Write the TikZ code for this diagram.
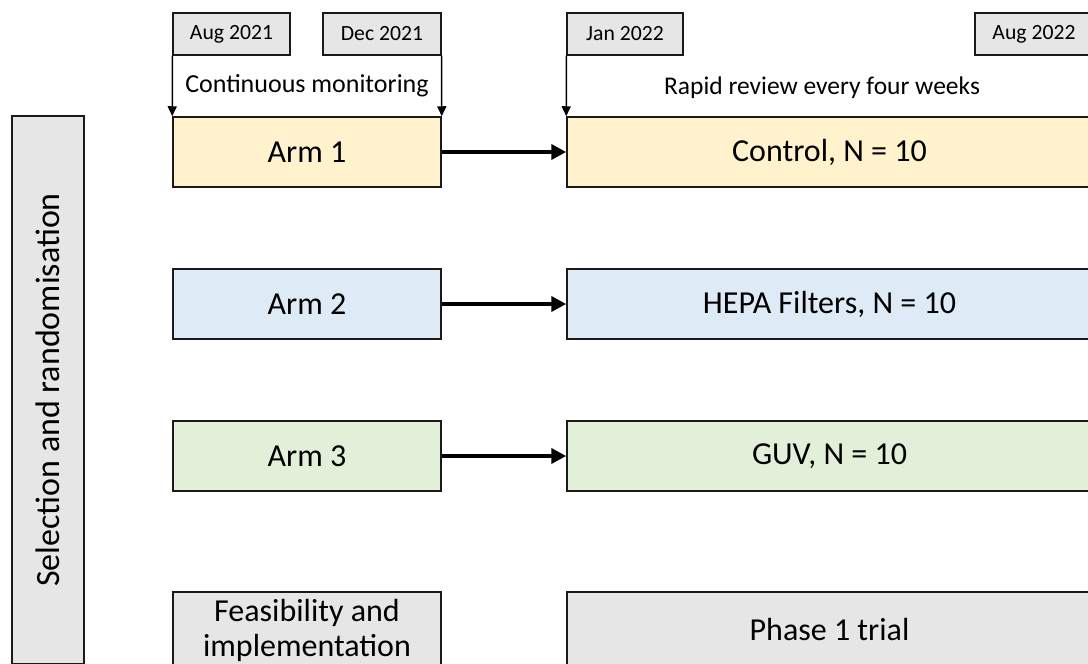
\documentclass[tikz,border=0pt]{standalone}
\usepackage{fontspec}
\setmainfont{Carlito}
\usetikzlibrary{arrows.meta}
\definecolor{orfill}{HTML}{FFF2CC}
\definecolor{blfill}{HTML}{DEEBF7}
\definecolor{grfill}{HTML}{E2F0D9}
\definecolor{gyfill}{HTML}{E6E6E6}
\definecolor{edge}{HTML}{1A1A1A}
\tikzset{
  box/.style={draw=edge, line width=1.5pt, rectangle, inner sep=0pt, align=center,
    font=\fontsize{32}{35}\selectfont},
  datebox/.style={draw=edge, line width=1.3pt, fill=gyfill, rectangle, inner sep=0pt,
    minimum height=42pt, font=\fontsize{21.7}{24}\selectfont},
  lbl/.style={inner sep=0pt, font=\fontsize{26}{30}\selectfont},
  thinarrow/.style={draw=black, line width=1.5pt, -{Triangle[length=10pt,width=9pt]}},
  thickarrow/.style={draw=black, line width=4pt, -{Triangle[length=15pt,width=15pt]}}
}
\begin{document}
\begin{tikzpicture}[x=1pt,y=-1pt]
\useasboundingbox (0,0) rectangle (1088,664);
% left vertical box
\node[box, fill=gyfill, rotate=90, minimum width=548pt, minimum height=72pt,
  font=\fontsize{34}{38}\selectfont] (sel) at (48,390) {Selection and randomisation};
% date boxes
\node[datebox, minimum width=117pt] (aug21) at (231.5,34) {Aug 2021};
\node[datebox, minimum width=118pt] (dec21) at (382,34) {Dec 2021};
\node[datebox, minimum width=116pt] (jan22) at (625,34) {Jan 2022};
\node[datebox, minimum width=118pt] (aug22) at (1034,34) {Aug 2022};
% labels
\node[lbl] (cont) at (307,86) {Continuous monitoring};
\node[lbl, font=\fontsize{25.5}{30}\selectfont] (rapid) at (822,88) {Rapid review every four weeks};
% arms
\node[box, fill=orfill, minimum width=268pt, minimum height=70pt] (arm1) at (307,152) {Arm 1};
\node[box, fill=blfill, minimum width=268pt, minimum height=70pt] (arm2) at (307,304) {Arm 2};
\node[box, fill=grfill, minimum width=268pt, minimum height=70pt] (arm3) at (307,456) {Arm 3};
\node[box, fill=gyfill, minimum width=268pt, minimum height=76pt] (feas) at (307,630) {Feasibility and\\implementation};
% right boxes
\node[box, fill=orfill, minimum width=525pt, minimum height=70pt] (ctrl) at (829.5,152) {Control, N = 10};
\node[box, fill=blfill, minimum width=525pt, minimum height=70pt] (hepa) at (829.5,304) {HEPA Filters, N = 10};
\node[box, fill=grfill, minimum width=525pt, minimum height=70pt] (guv) at (829.5,456) {GUV, N = 10};
\node[box, fill=gyfill, minimum width=525pt, minimum height=76pt] (phase) at (829.5,630) {Phase 1 trial};
% vertical arrows
\draw[thinarrow] (aug21.south west) -- (arm1.north west);
\draw[thinarrow] (dec21.south east) -- (arm1.north east);
\draw[thinarrow] (jan22.south west) -- (ctrl.north west);
% horizontal arrows
\draw[thickarrow] (arm1.east) -- (ctrl.west);
\draw[thickarrow] (arm2.east) -- (hepa.west);
\draw[thickarrow] (arm3.east) -- (guv.west);
\end{tikzpicture}
\end{document}
